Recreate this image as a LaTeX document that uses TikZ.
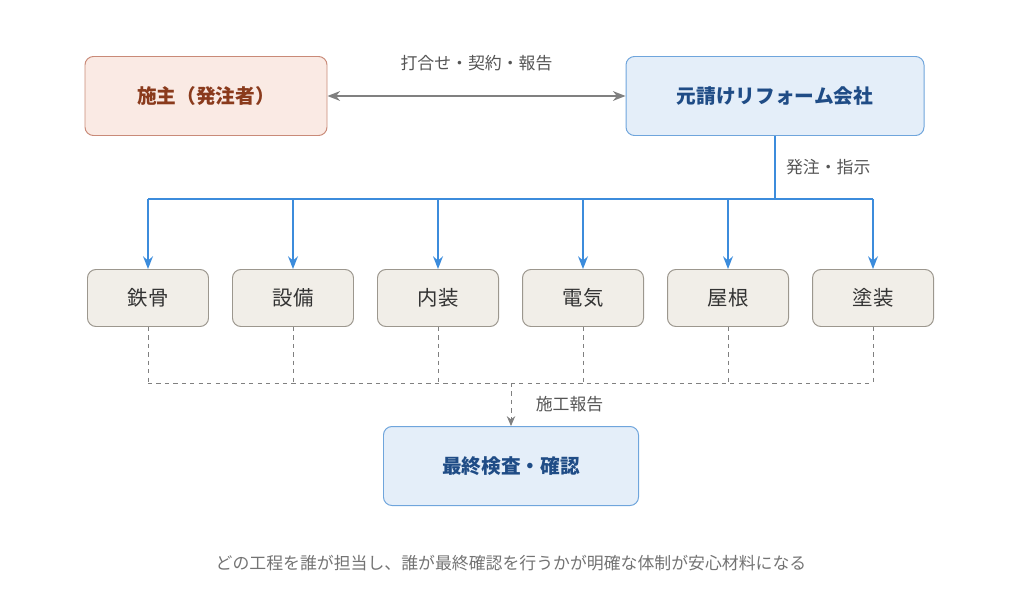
\documentclass[tikz,border=0pt]{standalone}
\usepackage{fontspec}
\setmainfont{Noto Sans CJK JP}
\usetikzlibrary{positioning, calc, arrows.meta}

\definecolor{ownfill}{HTML}{FAEAE4}
\definecolor{owndraw}{HTML}{C98A78}
\definecolor{owntext}{HTML}{8A3A1C}
\definecolor{genfill}{HTML}{E4EEF9}
\definecolor{gendraw}{HTML}{6FA5DC}
\definecolor{gentext}{HTML}{1F4C86}
\definecolor{subfill}{HTML}{F1EEE8}
\definecolor{subdraw}{HTML}{9C978E}
\definecolor{flowblue}{HTML}{3C8CDC}
\definecolor{lblgray}{HTML}{555555}

\tikzset{
  box/.style={draw, rounded corners=6pt, line width=0.7pt, align=center, inner sep=0pt},
  owner/.style={box, fill=ownfill, draw=owndraw, text=owntext, minimum width=242*0.025cm, minimum height=79*0.025cm, font=\fontsize{14}{16}\selectfont\bfseries},
  general/.style={box, fill=genfill, draw=gendraw, text=gentext, minimum height=79*0.025cm, font=\fontsize{14}{16}\selectfont\bfseries},
  trade/.style={box, fill=subfill, draw=subdraw, text=black!80, minimum width=121*0.025cm, minimum height=57*0.025cm, font=\fontsize{14.5}{16}\selectfont},
  lbl/.style={text=lblgray, font=\fontsize{12}{14}\selectfont},
  order/.style={flowblue, line width=1.1pt},
  report/.style={gray, dashed, line width=0.7pt},
}

\begin{document}
\begin{tikzpicture}[x=0.025cm, y=-0.025cm]
  \useasboundingbox (0,0) rectangle (1024,612);

  \node[owner] (owner) at (206,96) {施主（発注者）};
  \node[general, minimum width=298*0.025cm] (main) at (775,96) {元請けリフォーム会社};
%
  \draw[gray, line width=0.9pt, {Stealth[length=9pt,width=7pt]}-{Stealth[length=9pt,width=7pt]}] (owner) -- (main)
    node[midway, above=14pt, lbl] {打合せ・契約・報告};
%
  \coordinate (split) at (775,199);
  \draw[order] (main) -- (split) node[midway, right=4pt, lbl] {発注・指示};
  \draw[order] (148,199) -- (873,199);

  \foreach \name/\txt [count=\i from 0] in {steel/鉄骨, equip/設備, inner/内装, elec/電気, roof/屋根, paint/塗装} {
    \node[trade] (\name) at (148+145*\i,298) {\txt};
    \coordinate (top\name) at (148+145*\i,199);
    \coordinate (bot\name) at (148+145*\i,383);
    \draw[order, -{Stealth[length=9pt,width=7pt]}] (top\name) -- (\name);
    \draw[report] (\name) -- (bot\name);
  }
  \draw[report] (botsteel) -- (botpaint);
%
  \node[general, minimum width=255*0.025cm] (check) at (511,466) {最終検査・確認};
  \coordinate (merge) at (511,383);
  \draw[report, -{Stealth[length=7pt,width=6pt]}] (merge) -- (check)
    node[midway, right=14pt, lbl] {施工報告};

  \node[lbl, text=gray!90!black] (note) at (511,563) {どの工程を誰が担当し、誰が最終確認を行うかが明確な体制が安心材料になる};
\end{tikzpicture}
\end{document}
